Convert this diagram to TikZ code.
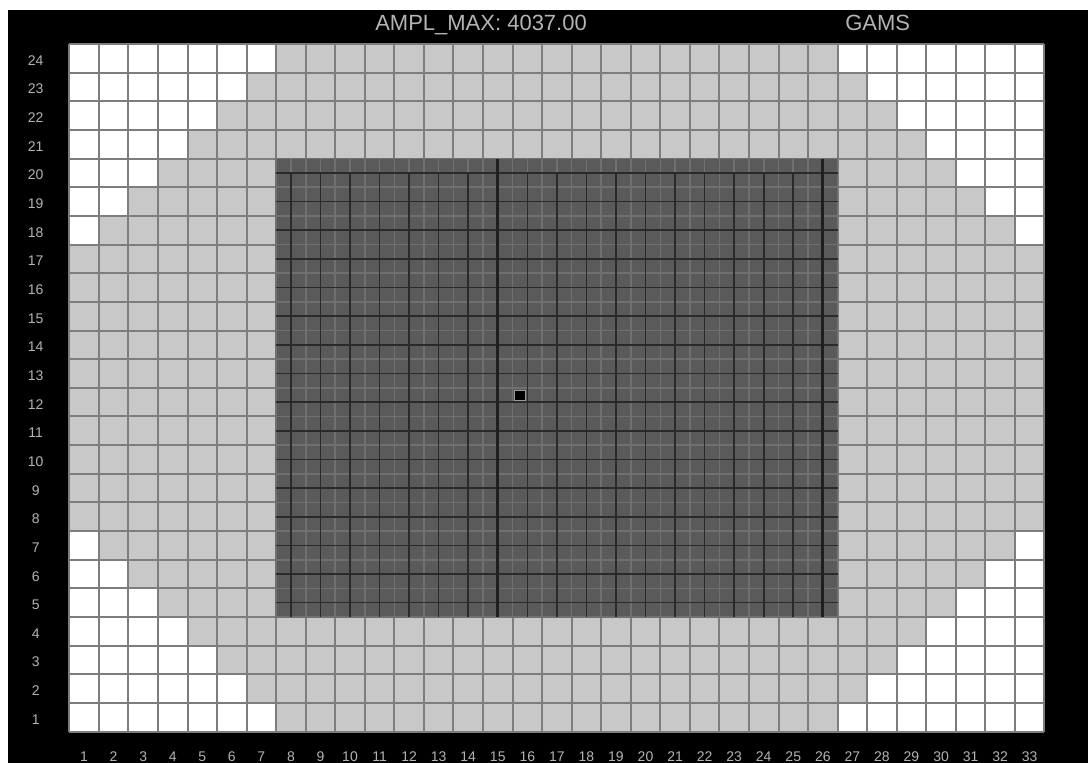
\documentclass[tikz,border=0pt]{standalone}
\usepackage{fontspec}
\setmainfont{Liberation Sans}
\definecolor{cellgray}{RGB}{200,200,200}
\definecolor{gridgray}{RGB}{125,125,125}
\definecolor{coregray}{RGB}{90,90,90}
\definecolor{finegray}{RGB}{112,112,112}
\definecolor{meshdark}{RGB}{42,42,42}
\definecolor{labelgray}{RGB}{180,180,180}
\begin{document}
\begin{tikzpicture}[x=0.75pt,y=-0.75pt,
 lbl/.style={text=labelgray,font=\fontsize{10.5}{12}\selectfont,inner sep=0pt,anchor=base},
 ttl/.style={text=labelgray,font=\fontsize{16.5}{19}\selectfont,inner sep=0pt,anchor=base west},
 gridln/.style={draw=gridgray,line width=1.5pt},
 fineln/.style={draw=finegray,line width=1.2pt},
 meshln/.style={draw=meshdark,line width=1.2pt},
 seamln/.style={draw=black!88,line width=2.2pt}]
\fill[white] (0,0) rectangle (1088,763);
\fill[black] (8,10) rectangle (1088,763);
\node[ttl] (ampl) at (375,31) {AMPL\_MAX: 4037.00};
\node[ttl] (gams) at (845,31) {GAMS};
\begin{scope}[xshift=51.975pt,yshift=-33pt,x=22.1625pt,y=-21.4875pt]
\fill[white] (0,0) rectangle (33,24);
\foreach \r in {1,...,24} {
  \pgfmathtruncatemacro\w{max(0,\r-17,8-\r)}
  \pgfmathtruncatemacro\t{24-\r}
  \fill[cellgray] (\w,\t) rectangle (33-\w,\t+1);
  \node[lbl] (row\r) at (-1.137,\t+0.744) {\r};
}
\foreach \c in {0,...,33} \draw[gridln] (\c,0) -- (\c,24);
\foreach \t in {0,...,24} \draw[gridln] (0,\t) -- (33,\t);
\foreach \c in {1,...,33} \node[lbl] (col\c) at (\c-0.5,25.06) {\c};
\fill[coregray] (7,4) rectangle (26,20);
\foreach \k in {0,...,38} \draw[fineln] (7+\k/2,4) -- (7+\k/2,20);
\foreach \k in {0,...,32} \draw[fineln] (7,4+\k/2) -- (26,4+\k/2);
\foreach \k in {0,...,18} \draw[meshln] (7.5+\k,4.5) -- (7.5+\k,20);
\foreach \k in {0,...,15} \draw[meshln] (7,4.5+\k) -- (26,4.5+\k);
\foreach \s in {14.5,25.5} \draw[seamln] (\s,4) -- (\s,20);
\fill[black,draw=gray!80,line width=0.8pt] (15.08,12.09) rectangle (15.45,12.44);
\end{scope}
\end{tikzpicture}
\end{document}
